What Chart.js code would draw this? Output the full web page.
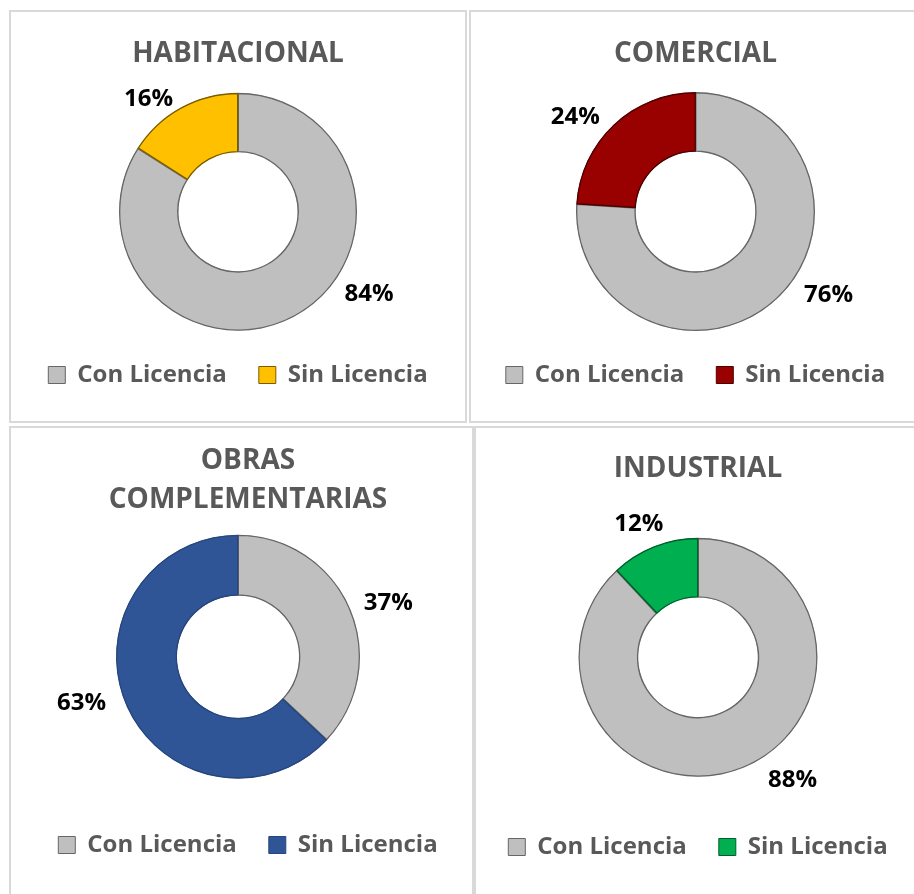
<!DOCTYPE html>
<html>
<head>
<meta charset="utf-8">
<script src="https://cdn.jsdelivr.net/npm/chart.js@4.4.1/dist/chart.umd.min.js"></script>
<style>
    html, body { margin: 0; padding: 0; background: #fff; overflow: hidden; }
    body { width: 914px; height: 894px; position: relative; }
    .panel { position: absolute; border: 2px solid #d9d9d9; overflow: hidden; background: #fff; }
    .panel canvas { display: block; }
</style>
</head>
<body>
<div class="panel" style="left:9px; top:10px; width:454px; height:409px;">
    <canvas id="habitacional" width="454" height="409"></canvas>
</div>
<div class="panel" style="left:469px; top:10px; width:449px; height:409px;">
    <canvas id="comercial" width="449" height="409"></canvas>
</div>
<div class="panel" style="left:9px; top:426px; width:461px; height:470px;">
    <canvas id="obras" width="474" height="470"></canvas>
</div>
<div class="panel" style="left:474px; top:426px; width:444px; height:470px;">
    <canvas id="industrial" width="444" height="470"></canvas>
</div>

<script>
// Data
const categories = ['Con Licencia', 'Sin Licencia'];
const habitacional = [84, 16];
const comercial = [76, 24];
const obras = [37, 63];
const industrial = [88, 12];

const FONT = '"Open Sans", "Noto Sans", sans-serif';
const GRAY = '#bfbfbf';
const GRAY_EDGE = '#666666';

/**
 * Percent labels placed outside the ring (angle in degrees clockwise from top,
 * gap in px beyond the outer radius)
 */
const outerLabels = {
    id: 'outerLabels',
    afterDatasetsDraw(chart, args, opts) {
        const { ctx } = chart;
        const meta = chart.getDatasetMeta(0);
        const values = chart.data.datasets[0].data;
        ctx.save();
        ctx.font = 'bold 24px ' + FONT;
        ctx.fillStyle = '#000000';
        ctx.textAlign = 'center';
        ctx.textBaseline = 'middle';
        meta.data.forEach((arc, i) => {
            const [deg, gap] = opts.spots[i];
            const a = deg * Math.PI / 180;
            const r = arc.outerRadius + gap;
            ctx.fillText(values[i] + '%', arc.x + r * Math.sin(a), arc.y - r * Math.cos(a) + 1);
        });
        ctx.restore();
    }
};

// Nudge the plot area sideways (the Excel plot area is not centred under the title)
const plotShift = {
    id: 'plotShift',
    afterLayout(chart, args, opts) {
        const dx = opts.dx || 0;
        chart.chartArea.left += dx;
        chart.chartArea.right += dx;
    }
};

/**
 * Build one doughnut panel
 */
function makeDonut(id, title, values, color, edge, opts) {
    const canvas = document.getElementById(id);
    return new Chart(canvas.getContext('2d'), {
        type: 'doughnut',
        data: {
            labels: categories,
            datasets: [{
                data: values,
                backgroundColor: [GRAY, color],
                borderColor: [GRAY_EDGE, edge],
                borderWidth: 1,
                borderAlign: 'inner'
            }]
        },
        options: {
            responsive: false,
            animation: false,
            radius: opts.radius,
            cutout: '50%',
            layout: { padding: { top: 0, bottom: opts.padBottom, left: 0, right: 0 } },
            plugins: {
                title: {
                    display: true,
                    text: title,
                    color: '#595959',
                    font: { family: FONT, size: 28, weight: 'bold', lineHeight: opts.titleLine || 1.2 },
                    padding: { top: opts.titleTop, bottom: opts.titleBottom }
                },
                legend: {
                    position: 'bottom',
                    labels: {
                        color: '#595959',
                        font: { family: FONT, size: 24, weight: 'bold' },
                        boxWidth: 17,
                        boxHeight: 17,
                        padding: 32
                    }
                },
                tooltip: { enabled: false },
                outerLabels: { spots: opts.spots },
                plotShift: { dx: opts.shift || 0 }
            }
        },
        plugins: [outerLabels, plotShift]
    });
}

makeDonut('habitacional', 'HABITACIONAL', habitacional, '#ffc000', '#7a5c00', {
    radius: 119, padBottom: 24, titleTop: 25, titleBottom: 22,
    spots: [[121.7, 35], [321.9, 26]]
});

makeDonut('comercial', 'COMERCIAL', comercial, '#990000', '#4d0000', {
    radius: 119.5, padBottom: 24, titleTop: 25, titleBottom: 21.5,
    spots: [[121.8, 37], [308.5, 34]]
});

makeDonut('obras', ['OBRAS', 'COMPLEMENTARIAS'], obras, '#2f5597', '#26467c', {
    radius: 122, padBottom: 31, titleTop: 13.5, titleBottom: -7, titleLine: 1.39, shift: -10,
    spots: [[70, 38], [253.8, 41]]
});

makeDonut('industrial', 'INDUSTRIAL', industrial, '#00b050', '#005f2b', {
    radius: 119.5, padBottom: 29, titleTop: 24, titleBottom: 26,
    spots: [[142.3, 35], [336.2, 27]]
});
</script>
</body>
</html>
